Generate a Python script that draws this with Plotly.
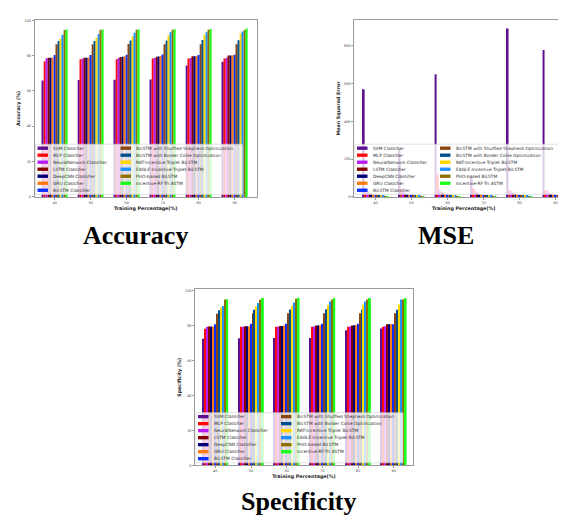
import plotly.graph_objects as go

categories = ["40", "50", "60", "70", "80", "90"]

series_names = [
    "SVM Classifier",
    "MLP Classifier",
    "NeuralNetwork Classifier",
    "LSTM Classifier",
    "DeepCNN Classifier",
    "GRU Classifier",
    "BiLSTM Classifier",
    "BiLSTM with Shuffled Shepherd Optimization",
    "BiLSTM with Border Collie Optimization",
    "RAT-Incentive Triplet BiLSTM",
    "EAGLE-Incentive Triplet BiLSTM",
    "PHO-based BiLSTM",
    "Incentive-RF-Tri ASTM",
]
series_colors = [
    "#5c0f91", "#ff0a0a", "#b81cf5", "#820000", "#000078", "#ff7a12", "#0a2eff",
    "#8b4513", "#00508f", "#ffd700", "#1e90ff", "#8c7000", "#1aff1a",
]

# ---- Accuracy (%) ----
acc_svm      = [65.9, 66.2, 66.3, 66.5, 74.4, 76.5]
acc_mlp      = [76.7, 78.0, 78.0, 78.4, 78.4, 78.4]
acc_nn       = [78.5, 78.4, 78.6, 78.6, 78.6, 78.8]
acc_lstm     = [78.8, 78.8, 79.2, 79.4, 79.7, 80.1]
acc_deepcnn  = [78.8, 78.8, 79.3, 79.5, 79.7, 80.1]
acc_gru      = [78.9, 78.9, 79.6, 79.8, 79.8, 80.2]
acc_bilstm   = [80.4, 80.4, 80.5, 80.6, 80.4, 80.5]
acc_shuffled = [86.4, 86.4, 86.6, 86.5, 86.4, 86.4]
acc_border   = [88.3, 88.3, 88.5, 88.5, 88.9, 88.7]
acc_rat      = [89.6, 90.1, 90.9, 91.5, 91.8, 92.5]
acc_eagle    = [91.8, 92.3, 92.9, 93.2, 93.2, 93.7]
acc_pho      = [94.5, 94.6, 94.6, 94.6, 94.6, 94.5]
acc_incent   = [94.8, 94.8, 94.8, 94.9, 95.0, 95.3]

# ---- Mean Squared Error ----
mse_svm      = [571, 255, 650, 110, 893, 779]
mse_mlp      = [45, 40, 120, 45, 36, 36]
mse_nn       = [35, 30, 40, 30, 32, 34]
mse_lstm     = [20, 18, 28, 22, 20, 22]
mse_deepcnn  = [15, 14, 22, 16, 16, 16]
mse_gru      = [13, 12, 18, 14, 14, 14]
mse_bilstm   = [12, 11, 14, 12, 12, 12]
mse_shuffled = [10, 9, 11, 10, 10, 10]
mse_border   = [9, 8, 10, 9, 9, 9]
mse_rat      = [8, 7, 8, 8, 8, 8]
mse_eagle    = [7, 6, 7, 7, 7, 7]
mse_pho      = [5, 5, 5, 5, 5, 5]
mse_incent   = [3, 3, 3, 3, 3, 3]

# ---- Specificity (%) ----
spe_svm      = [72.4, 72.6, 72.8, 72.8, 77.3, 78.2]
spe_mlp      = [78.1, 79.2, 79.2, 79.2, 79.2, 79.2]
spe_nn       = [79.2, 79.3, 79.3, 79.4, 79.4, 79.5]
spe_lstm     = [79.4, 79.5, 79.6, 80.0, 80.0, 80.6]
spe_deepcnn  = [79.4, 79.5, 79.6, 80.0, 80.1, 80.6]
spe_gru      = [79.4, 79.5, 80.0, 80.1, 80.2, 80.6]
spe_bilstm   = [80.7, 81.0, 80.9, 80.9, 80.9, 80.7]
spe_shuffled = [86.7, 86.9, 86.9, 86.9, 87.0, 86.9]
spe_border   = [88.7, 89.0, 89.1, 89.2, 89.1, 89.0]
spe_rat      = [90.2, 91.0, 91.3, 91.6, 91.8, 92.0]
spe_eagle    = [91.1, 92.8, 93.1, 93.6, 93.6, 94.8]
spe_pho      = [94.8, 94.7, 95.3, 94.8, 94.8, 94.8]
spe_incent   = [94.9, 95.7, 95.8, 95.7, 95.7, 95.7]

accuracy_series = [acc_svm, acc_mlp, acc_nn, acc_lstm, acc_deepcnn, acc_gru, acc_bilstm,
                   acc_shuffled, acc_border, acc_rat, acc_eagle, acc_pho, acc_incent]
mse_series = [mse_svm, mse_mlp, mse_nn, mse_lstm, mse_deepcnn, mse_gru, mse_bilstm,
              mse_shuffled, mse_border, mse_rat, mse_eagle, mse_pho, mse_incent]
spec_series = [spe_svm, spe_mlp, spe_nn, spe_lstm, spe_deepcnn, spe_gru, spe_bilstm,
               spe_shuffled, spe_border, spe_rat, spe_eagle, spe_pho, spe_incent]

W, H = 566, 519


def px_x(v):
    return v / W


def px_y(v):
    return 1 - v / H


# panel boxes in pixels: (left, top, right, bottom)
panels = [
    dict(key="", box=(26.5, 11, 249, 189), xr=[-0.56, 5.62], yr=[0, 100.2],
         ytitle="Accuracy (%)", dtick=20, data=accuracy_series, caption="Accuracy",
         cap_xy=(127, 228)),
    dict(key="2", box=(346, 11, 565.5, 189), xr=[-0.6, 5.5], yr=[0, 938],
         ytitle="Mean Squared Error", dtick=200, data=mse_series, caption="MSE",
         cap_xy=(438, 228)),
    dict(key="3", box=(187, 282, 405, 459), xr=[-0.57, 5.54], yr=[0, 100.6],
         ytitle="Specificity (%)", dtick=20, data=spec_series, caption="Specificity",
         cap_xy=(291, 495)),
]

fig = go.Figure()
shapes = []
annotations = []
axis_color = "#9a9a9a"
tick_font = dict(family="DejaVu Sans", size=3.5, color="#444")
title_font = dict(family="DejaVu Sans", size=4.8, color="#222", weight="bold")

for p in panels:
    k = p["key"]
    for name, color, vals in zip(series_names, series_colors, p["data"]):
        fig.add_trace(go.Bar(
            x=categories, y=vals, name=name, marker_color=color,
            marker_line_width=0, showlegend=False,
            xaxis="x" + k, yaxis="y" + k,
        ))
    l, t, r, b = p["box"]
    fig.layout["xaxis" + k] = dict(
        domain=[px_x(l), px_x(r)], anchor="y" + k, type="category",
        range=p["xr"], showline=True, mirror=True, linecolor=axis_color, linewidth=0.8,
        ticks="outside", ticklen=1.8, tickwidth=0.5, tickcolor=axis_color,
        tickfont=tick_font, showgrid=False, zeroline=False,
        title=dict(text="Training Percentage(%)", font=title_font, standoff=2),
    )
    fig.layout["yaxis" + k] = dict(
        domain=[px_y(b), px_y(t)], anchor="x" + k, range=p["yr"], dtick=p["dtick"],
        showline=True, mirror=True, linecolor=axis_color, linewidth=0.8,
        ticks="outside", ticklen=1.8, tickwidth=0.5, tickcolor=axis_color,
        tickfont=tick_font, showgrid=False, zeroline=False,
        title=dict(text=p["ytitle"], font=title_font, standoff=3),
    )

    # manual two-column legend drawn over the bars (semi-transparent box)
    shapes.append(dict(
        type="rect", xref="paper", yref="paper", layer="above",
        x0=px_x(l + 1), x1=px_x(l + 208), y0=px_y(b - 2.5), y1=px_y(b - 53),
        fillcolor="rgba(255,255,255,0.8)", line=dict(color="#d0d0d0", width=0.6),
    ))
    for i, (name, color) in enumerate(zip(series_names, series_colors)):
        col = 0 if i < 7 else 1
        row = i if i < 7 else i - 7
        cy = b - 49 + row * 7.05
        px0 = l + (3 if col == 0 else 86)
        shapes.append(dict(
            type="rect", xref="paper", yref="paper", layer="above",
            x0=px_x(px0), x1=px_x(px0 + 10.5), y0=px_y(cy + 1.7), y1=px_y(cy - 1.7),
            fillcolor=color, line=dict(width=0),
        ))
        annotations.append(dict(
            xref="paper", yref="paper", x=px_x(px0 + 13.5), y=px_y(cy),
            xanchor="left", yanchor="middle", showarrow=False, text=name,
            font=dict(family="DejaVu Sans", size=4.35, color="#333"),
        ))
    cx, cy = p["cap_xy"]
    annotations.append(dict(
        xref="paper", yref="paper", x=px_x(cx), y=px_y(cy),
        xanchor="center", yanchor="middle", showarrow=False, text=p["caption"],
        font=dict(family="Liberation Serif", size=26, color="#000", weight="bold"),
    ))

fig.update_layout(
    width=W, height=H, margin=dict(l=0, r=0, t=0, b=0),
    paper_bgcolor="white", plot_bgcolor="white",
    barmode="group", bargap=0.28, bargroupgap=0,
    shapes=shapes, annotations=annotations, showlegend=False,
)

fig.write_html("out.html")
